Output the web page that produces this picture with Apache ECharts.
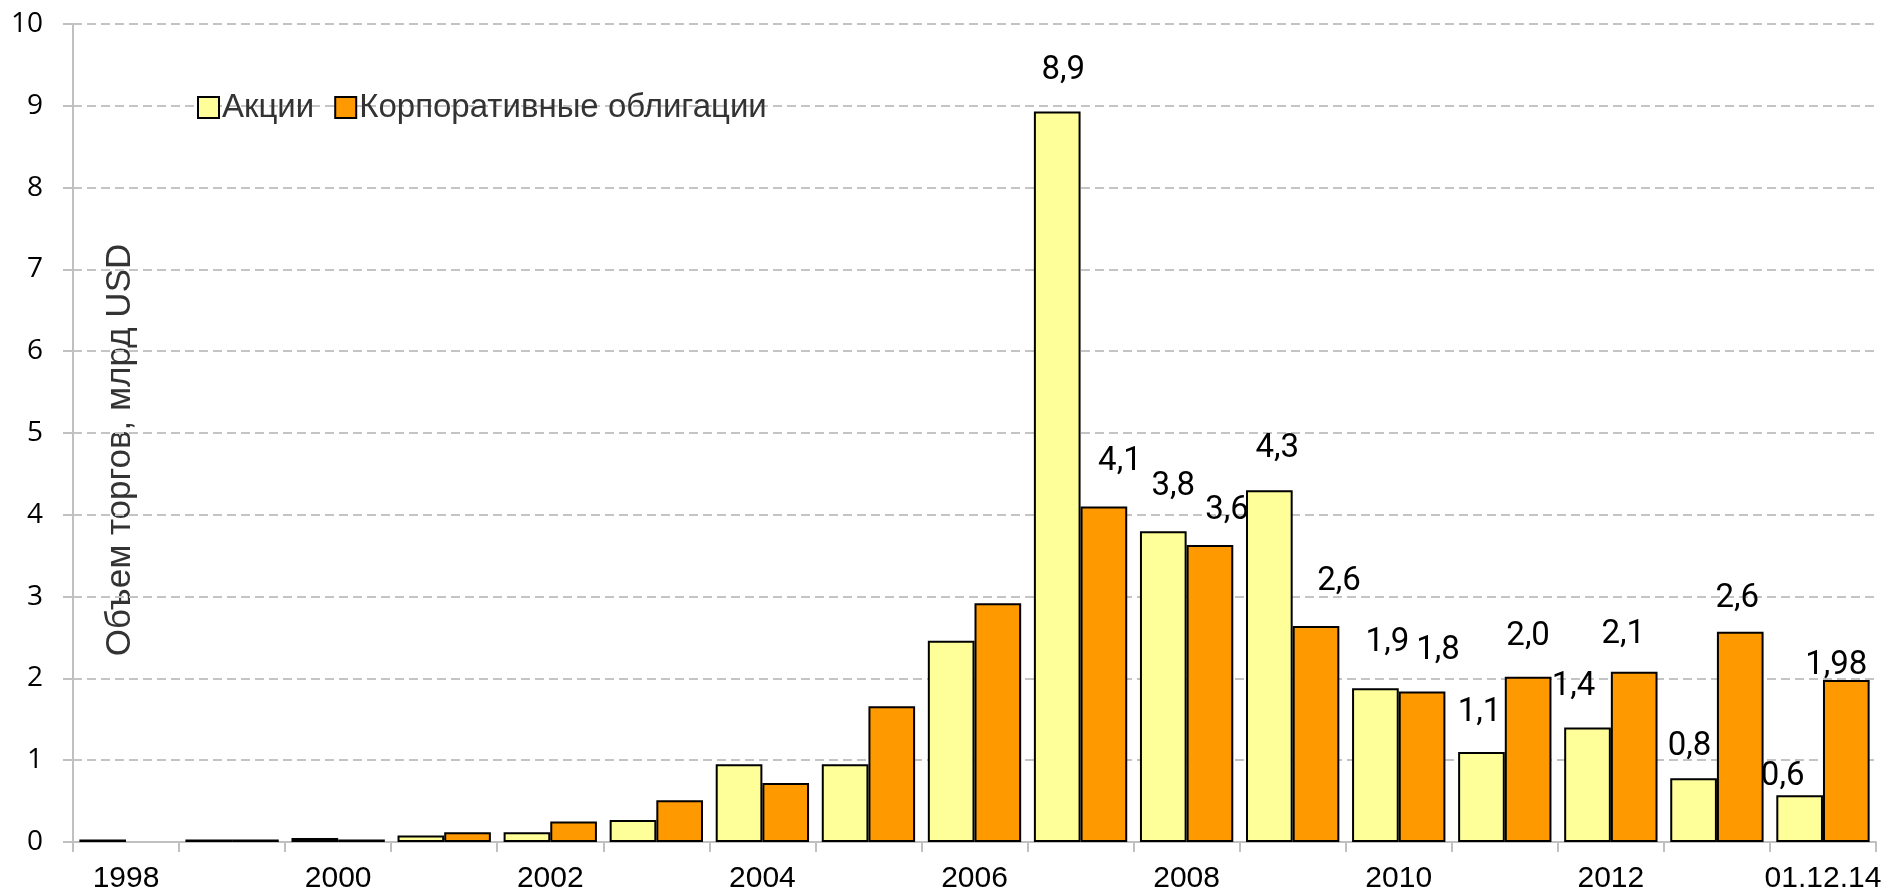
<!DOCTYPE html>
<html>
<head>
<meta charset="utf-8">
<script src="https://cdn.jsdelivr.net/npm/echarts@6/dist/echarts.min.js"></script>
<style>
    html, body {margin: 0; padding: 0; background: #fff;}
    #chart {width: 1887px; height: 894px;}
</style>
</head>
<body>
<div id="chart"></div>
<script>
// годы (последняя точка - на 01.12.14)
var years = ["1998", "1999", "2000", "2001", "2002", "2003", "2004", "2005", "2006",
    "2007", "2008", "2009", "2010", "2011", "2012", "2013", "01.12.14"];

// объем торгов, млрд USD
var akcii = [0.03, 0.03, 0.05, 0.08, 0.12, 0.27, 0.95, 0.95, 2.46,
    8.93, 3.8, 4.3, 1.88, 1.1, 1.4, 0.78, 0.57];
var obligacii = [null, 0.03, 0.03, 0.12, 0.25, 0.51, 0.72, 1.66, 2.92,
    4.1, 3.63, 2.64, 1.84, 2.02, 2.08, 2.57, 1.98];

// подписи над столбцами (как на исходной картинке)
var akciiText = ["", "", "", "", "", "", "", "", "",
    "8,9", "3,8", "4,3", "1,9", "1,1", "1,4", "0,8", "0,6"];
var obligaciiText = ["", "", "", "", "", "", "", "", "",
    "4,1", "3,6", "2,6", "1,8", "2,0", "2,1", "2,6", "1,98"];

var yTicks = ["0", "1", "2", "3", "4", "5", "6", "7", "8", "9", "10"];

// сдвиги подписей, подобраны по картинке
var akciiShift = {9: [6, -19], 10: [10, -23], 11: [8, -20], 12: [12, -24], 13: [-2, -18], 14: [-14, -19], 15: [-4, -10], 16: [-17, 3]};
var obligaciiShift = {9: [16, -23], 10: [17, -13], 11: [23, -23], 12: [16, -19], 13: [0, -19], 14: [-11, -16], 15: [-3, -12], 16: [-10, 7]};

var sans = '"Liberation Sans", Arial, sans-serif';

function buildData(values, texts, shift) {
    var res = [];
    for (let i = 0; i < values.length; i++) {
        let item = {value: values[i]};
        if (texts[i] !== "") {
            item.label = {
                show: true,
                position: 'top',
                distance: 5,
                formatter: texts[i],
                offset: shift[i] || [0, -20],
                fontSize: 33,
                fontWeight: 'normal',
                fontFamily: 'Roboto, sans-serif',
                color: '#000'
            };
        }
        res.push(item);
    }
    return res;
}

var myChart = echarts.init(document.getElementById("chart"));
var option = {
    animation: false,
    backgroundColor: '#fff',
    grid: {left: 73, right: 11, top: 24, bottom: 52, containLabel: false},
    legend: {
        left: 192,
        top: 86,
        icon: 'rect',
        itemWidth: 21,
        itemHeight: 21,
        itemGap: 20,
        textStyle: {fontSize: 33, fontFamily: sans, color: '#333', padding: [0, 0, 0, -2]},
        data: ['Акции', 'Корпоративные облигации']
    },
    xAxis: {
        type: 'category',
        data: years,
        axisLine: {lineStyle: {color: '#c0c0c0', width: 2}},
        axisTick: {show: true, length: 10, interval: 0, lineStyle: {color: '#c0c0c0', width: 2}},
        axisLabel: {interval: 1, fontSize: 30, color: '#000', margin: 22, fontFamily: sans}
    },
    yAxis: {
        type: 'value',
        min: 0,
        max: 10,
        interval: 1,
        axisLine: {show: true, lineStyle: {color: '#c0c0c0', width: 2}},
        axisTick: {show: true, length: 10, lineStyle: {color: '#c0c0c0', width: 2}},
        axisLabel: {
            fontSize: 28, color: '#000', margin: 30, fontFamily: '"Open Sans", sans-serif',
            formatter: function (v) {
                return yTicks[Math.round(v)];
            }
        },
        splitLine: {lineStyle: {color: '#c4c4c4', width: 2, type: [9, 5]}}
    },
    graphic: [{
        type: 'text',
        x: 120,
        y: 450,
        rotation: Math.PI / 2,
        style: {
            text: 'Объем торгов, млрд USD',
            fontSize: 35,
            fontFamily: sans,
            fill: '#333',
            align: 'center',
            verticalAlign: 'middle'
        }
    }],
    series: [
        {
            name: 'Акции',
            type: 'bar',
            barGap: '0%',
            barCategoryGap: '12%',
            itemStyle: {color: '#ffff99', borderColor: '#000', borderWidth: 2},
            data: buildData(akcii, akciiText, akciiShift)
        },
        {
            name: 'Корпоративные облигации',
            type: 'bar',
            barGap: '0%',
            barCategoryGap: '12%',
            itemStyle: {color: '#ff9900', borderColor: '#000', borderWidth: 2},
            data: buildData(obligacii, obligaciiText, obligaciiShift)
        }
    ]
};
myChart.setOption(option, true);
</script>
</body>
</html>
